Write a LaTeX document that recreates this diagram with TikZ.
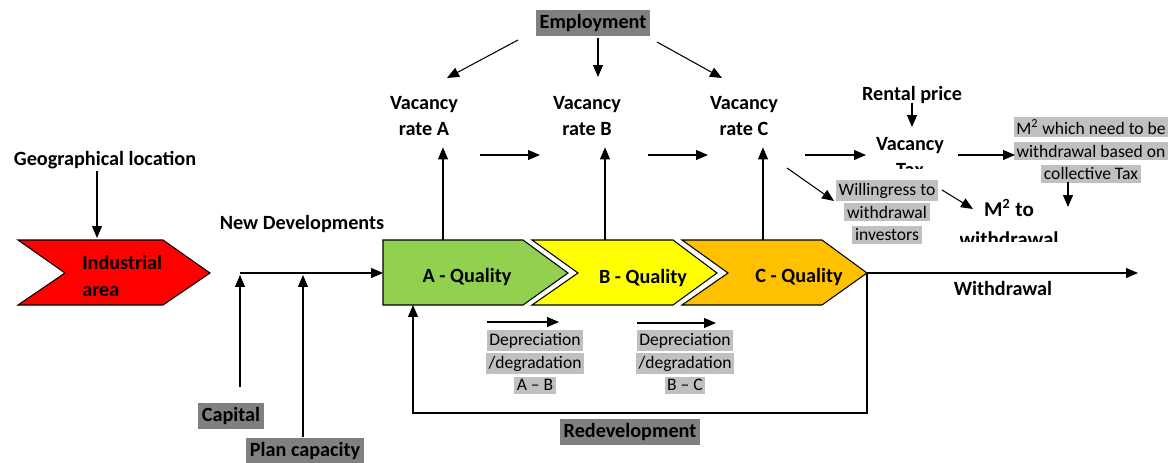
\documentclass[tikz,border=0pt]{standalone}
\usepackage{fontspec}
\setmainfont{Carlito}
\usetikzlibrary{arrows.meta}

\definecolor{darkbox}{RGB}{128,128,128}
\definecolor{lightbox}{RGB}{192,192,192}
\definecolor{qualA}{RGB}{146,208,80}
\definecolor{qualB}{RGB}{255,255,0}
\definecolor{qualC}{RGB}{255,192,0}
\setlength{\fboxsep}{1.5pt}
\newcommand{\hlline}[1]{\colorbox{lightbox}{#1}}

\begin{document}
\begin{tikzpicture}[
  x=0.02cm, y=-0.02cm,
  >={Triangle[length=2.4mm,width=2mm]}, line width=0.6pt,
  lbl/.style={font=\fontsize{11.5}{15.3}\selectfont\bfseries, align=center, inner sep=1pt},
  darklbl/.style={lbl, fill=darkbox, inner xsep=2pt, inner ysep=2.5pt},
  note/.style={font=\fontsize{10}{13}\selectfont, align=center, inner sep=0pt},
  chev/.style={draw, line width=0.6pt}
]
  \useasboundingbox (0,0) rectangle (1171,463);

  % shapes
  \draw[chev, fill=red]   (18,240) -- (163,240) -- (210,273) -- (163,305) -- (18,305) -- (65,273) -- cycle;
  \draw[chev, fill=qualA] (383,240) -- (523,240) -- (568,273) -- (523,305) -- (383,305) -- cycle;
  \draw[chev, fill=qualB] (532,240) -- (673,240) -- (717,273) -- (673,305) -- (532,305) -- (578,273) -- cycle;
  \draw[chev, fill=qualC] (682,240) -- (822,240) -- (867,273) -- (822,305) -- (682,305) -- (728,273) -- cycle;

  % positions
  \node[lbl] (geo) at (105,160) {Geographical location};
  \node[lbl, align=left, anchor=west] (ind) at (80,276) {Industrial\\area};
  \node[lbl] (newdev) at (302,224) {New Developments};
  \node[darklbl] (capital) at (231,416) {Capital};
  \node[darklbl] (plancap) at (305,451) {Plan capacity};
  \node[lbl] (QA) at (467,277) {A - Quality};
  \node[lbl] (QB) at (643,278) {B - Quality};
  \node[lbl] (QC) at (799,277) {C - Quality};
  \node[lbl] (withdr) at (1003,288) {Withdrawal};
  \node[darklbl] (redev) at (630,432) {Redevelopment};
  \node[darklbl] (employ) at (593,23) {Employment};
  \node[lbl] (vacA) at (424,116) {Vacancy\\rate A};
  \node[lbl] (vacB) at (587,116) {Vacancy\\rate B};
  \node[lbl] (vacC) at (744,116) {Vacancy\\rate C};
  \node[lbl] (rental) at (912,95) {Rental price};
  \begin{scope}
    \clip (850,125) rectangle (970,168);
    \node[lbl] (vactax) at (910,157) {Vacancy\\Tax};
  \end{scope}
  \node[note] (m2need) at (1091,150)
    {\hlline{M\textsuperscript{2} which need to be}\\\hlline{withdrawal based on}\\\hlline{collective Tax}};
  \node[note] (willing) at (887,212)
    {\hlline{Willingress to}\\\hlline{withdrawal}\\\hlline{investors}};
  \begin{scope}
    \clip (960,190) rectangle (1060,241);
    \node[lbl, font=\fontsize{12}{17}\selectfont\bfseries] (m2to) at (1009,223) {M\textsuperscript{2} to\\withdrawal};
  \end{scope}
  \node[note] (depAB) at (535,362) {\hlline{Depreciation}\\\hlline{/degradation}\\\hlline{A -- B}};
  \node[note] (depBC) at (685,362) {\hlline{Depreciation}\\\hlline{/degradation}\\\hlline{B -- C}};

  % connector ends
  \coordinate (indtop) at (97,238);
  \coordinate (devstart) at (240,273);
  \coordinate (devend) at (383,273);
  \coordinate (captip) at (240,275);
  \coordinate (plantip) at (303,275);
  \coordinate (Atop) at (443,240);
  \coordinate (Btop) at (605,240);
  \coordinate (Ctop) at (763,240);
  \coordinate (Cpt) at (867,273);
  \coordinate (wend) at (1138,273);
  \coordinate (Abot) at (413,305);
  \coordinate (eA1) at (518,40);   \coordinate (eA2) at (447,78);
  \coordinate (eB1) at (598,38);   \coordinate (eB2) at (598,77);
  \coordinate (eC1) at (657,42);   \coordinate (eC2) at (722,78);
  \coordinate (ab1) at (480,155);  \coordinate (ab2) at (540,155);
  \coordinate (bc1) at (648,155);  \coordinate (bc2) at (708,155);
  \coordinate (ct1) at (805,155);  \coordinate (ct2) at (866,155);
  \coordinate (tm1) at (958,155);  \coordinate (tm2) at (1015,155);
  \coordinate (rp1) at (912,103);  \coordinate (rp2) at (912,127);
  \coordinate (cw1) at (787,168);  \coordinate (cw2) at (834,201);
  \coordinate (wm1) at (942,190);  \coordinate (wm2) at (973,209);
  \coordinate (md1) at (1068,182); \coordinate (md2) at (1068,207);
  \coordinate (dA1) at (487,322);  \coordinate (dA2) at (559,322);
  \coordinate (dB1) at (637,323);  \coordinate (dB2) at (716,323);

  % edges
  \draw[->] (geo.south -| indtop) -- (indtop);
  \draw[->] (devstart) -- (devend);
  \draw[->, shorten <=0.3cm] (capital.north -| captip) -- (captip);
  \draw[->] (plancap.north -| plantip) -- (plantip);
  \draw[->, shorten >=0.18cm] (Atop) -- (Atop |- vacA.south);
  \draw[->, shorten >=0.18cm] (Btop) -- (Btop |- vacB.south);
  \draw[->, shorten >=0.18cm] (Ctop) -- (Ctop |- vacC.south);
  \draw[->] (eA1) -- (eA2);
  \draw[->] (eB1) -- (eB2);
  \draw[->] (eC1) -- (eC2);
  \draw[->] (ab1) -- (ab2);
  \draw[->] (bc1) -- (bc2);
  \draw[->] (ct1) -- (ct2);
  \draw[->] (tm1) -- (tm2);
  \draw[->] (rp1) -- (rp2);
  \draw[->] (cw1) -- (cw2);
  \draw[->] (wm1) -- (wm2);
  \draw[->] (md1) -- (md2);
  \draw[->] (dA1) -- (dA2);
  \draw[->] (dB1) -- (dB2);
  \draw[->] (Cpt) -- (wend);
  \draw[->] (Cpt) -- ++(0,140) -| (Abot);
\end{tikzpicture}
\end{document}
